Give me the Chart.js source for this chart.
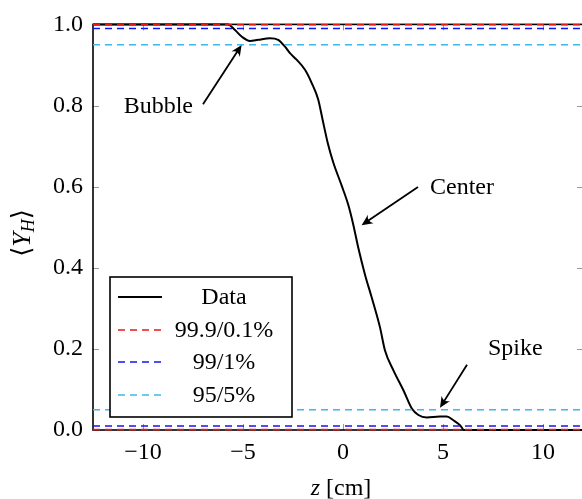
<!DOCTYPE html>
<html>
<head>
<meta charset="utf-8">
<script src="https://cdn.jsdelivr.net/npm/chart.js@4/dist/chart.umd.min.js"></script>
<style>
  html, body { margin: 0; padding: 0; overflow: hidden; background: #fff; }
  #wrap { width: 590px; height: 499px; }
</style>
</head>
<body>
<div id="wrap"><canvas id="c" width="590" height="499"></canvas></div>
<script>
// Mean hydrogen mass fraction along the axis
const zValues = [-12.5, -5.75, -5.4, -5.07, -4.65, -4.24, -3.65, -3.24, -2.9, -2.65, -2.32, -1.9,
  -1.57, -1.24, -1.02, -0.75, -0.49, -0.07, 0.27, 0.52, 0.77, 1.1, 1.44, 1.85, 2.1, 2.52,
  3.02, 3.44, 3.77, 4.19, 4.85, 5.19, 5.52, 5.85, 6.05, 12];
const yhValues = [1.0, 1.0, 0.986, 0.970, 0.959, 0.962, 0.966, 0.962, 0.945, 0.929, 0.913, 0.888,
  0.856, 0.815, 0.765, 0.705, 0.660, 0.603, 0.554, 0.505, 0.448, 0.383, 0.326, 0.253, 0.196, 0.147,
  0.098, 0.053, 0.037, 0.031, 0.033, 0.033, 0.024, 0.012, 0.0, 0.0];

// Threshold pairs
const thresholdLabels = ['99.9/0.1%', '99/1%', '95/5%'];
const thresholdUpper = [0.999, 0.99, 0.95];
const thresholdLower = [0.001, 0.01, 0.05];

// Axes
const zRange = [-12.5, 12];
const yhRange = [0, 1];
const xTickValues = [-10, -5, 0, 5, 10];
const yTickValues = [0, 0.2, 0.4, 0.6, 0.8, 1.0];

// Callouts: text, text anchor, arrow tail, arrow tip (data coordinates)
const calloutTexts = ['Bubble', 'Center', 'Spike'];
const calloutAnchors = [[-7.5, 0.797, 'right'], [4.35, 0.597, 'left'], [7.25, 0.2, 'left']];
const calloutTails = [[-7.0, 0.803], [3.75, 0.599], [6.2, 0.161]];
const calloutTips = [[-5.07, 0.949], [0.93, 0.505], [4.85, 0.055]];

const thresholdColors = ['#e81818', '#1414f0', '#3cb8ea'];
const SERIF = '"Liberation Serif", "DejaVu Serif", serif';
const FS = 24;

function fmtX(v) { return v < 0 ? '\u2212' + Math.abs(v) : String(v); }

const datasets = [{
  label: 'Data',
  data: zValues.map((z, i) => ({ x: z, y: yhValues[i] })),
  borderColor: '#000',
  borderWidth: 2,
  pointRadius: 0,
  showLine: true,
  cubicInterpolationMode: 'monotone',
  order: 1,
  clip: 4
}];
thresholdLabels.forEach((lab, i) => {
  [thresholdUpper[i], thresholdLower[i]].forEach(v => {
    datasets.push({
      label: lab,
      data: [{ x: zRange[0], y: v }, { x: zRange[1], y: v }],
      borderColor: thresholdColors[i],
      borderWidth: 1.6,
      borderDash: [7, 5],
      pointRadius: 0,
      showLine: true,
      order: 0,
      clip: 4
    });
  });
});

// Frame and inward tick marks on all four sides
const framePlugin = {
  id: 'frame',
  beforeDatasetsDraw(chart) {
    const { ctx, chartArea: a, scales: { x, y } } = chart;
    ctx.save();
    ctx.strokeStyle = '#9a9a9a';
    ctx.lineWidth = 1;
    const L = 6;
    xTickValues.forEach(v => {
      const px = Math.round(x.getPixelForValue(v)) + 0.5;
      ctx.beginPath();
      ctx.moveTo(px, a.bottom); ctx.lineTo(px, a.bottom - L);
      ctx.moveTo(px, a.top); ctx.lineTo(px, a.top + L);
      ctx.stroke();
    });
    yTickValues.forEach(v => {
      const py = Math.round(y.getPixelForValue(v)) + 0.5;
      ctx.beginPath();
      ctx.moveTo(a.left, py); ctx.lineTo(a.left + L, py);
      ctx.moveTo(a.right, py); ctx.lineTo(a.right - L, py);
      ctx.stroke();
    });
    ctx.strokeStyle = '#000';
    ctx.lineWidth = 1.6;
    ctx.strokeRect(a.left, a.top, a.right - a.left, a.bottom - a.top);
    ctx.restore();
  }
};

function drawArrow(ctx, x0, y0, x1, y1) {
  const ang = Math.atan2(y1 - y0, x1 - x0);
  const len = 11, half = 5;
  ctx.beginPath();
  ctx.moveTo(x0, y0);
  ctx.lineTo(x1 - Math.cos(ang) * 6, y1 - Math.sin(ang) * 6);
  ctx.stroke();
  ctx.save();
  ctx.translate(x1, y1);
  ctx.rotate(ang);
  ctx.beginPath();
  ctx.moveTo(0, 0);
  ctx.lineTo(-len, -half);
  ctx.quadraticCurveTo(-len * 0.55, 0, -len, half);
  ctx.closePath();
  ctx.fill();
  ctx.restore();
}

// Callout arrows with labels
const calloutPlugin = {
  id: 'callouts',
  afterDatasetsDraw(chart) {
    const { ctx, scales: { x, y } } = chart;
    ctx.save();
    ctx.strokeStyle = '#000';
    ctx.fillStyle = '#000';
    ctx.lineWidth = 1.8;
    ctx.font = FS + 'px ' + SERIF;
    ctx.textBaseline = 'middle';
    calloutTexts.forEach((t, i) => {
      const [tx, ty, align] = calloutAnchors[i];
      ctx.textAlign = align;
      ctx.fillText(t, x.getPixelForValue(tx), y.getPixelForValue(ty));
      drawArrow(ctx,
        x.getPixelForValue(calloutTails[i][0]), y.getPixelForValue(calloutTails[i][1]),
        x.getPixelForValue(calloutTips[i][0]), y.getPixelForValue(calloutTips[i][1]));
    });
    ctx.restore();
  }
};

// Boxed legend inside the plot
const legendPlugin = {
  id: 'boxLegend',
  afterDatasetsDraw(chart) {
    const { ctx } = chart;
    const box = { l: 110, t: 277, r: 292, b: 417 };
    const rows = [297, 330, 362, 395];
    ctx.save();
    ctx.fillStyle = '#fff';
    ctx.fillRect(box.l, box.t, box.r - box.l, box.b - box.t);
    ctx.strokeStyle = '#000';
    ctx.lineWidth = 1.6;
    ctx.strokeRect(box.l, box.t, box.r - box.l, box.b - box.t);
    const entries = [{ label: 'Data', color: '#000', dash: [] }].concat(
      thresholdLabels.map((lab, i) => ({ label: lab, color: thresholdColors[i], dash: [7, 5] })));
    ctx.font = FS + 'px ' + SERIF;
    ctx.textAlign = 'center';
    ctx.textBaseline = 'middle';
    entries.forEach((e, i) => {
      ctx.strokeStyle = e.color;
      ctx.lineWidth = e.dash.length ? 1.6 : 2;
      ctx.setLineDash(e.dash);
      ctx.beginPath();
      ctx.moveTo(118, rows[i]);
      ctx.lineTo(162, rows[i]);
      ctx.stroke();
      ctx.setLineDash([]);
      ctx.fillStyle = '#000';
      ctx.fillText(e.label, 224, rows[i] + 1);
    });
    ctx.restore();
  }
};

// Axis titles with italic symbols
function drawParts(ctx, parts, cx, cy) {
  let total = 0;
  parts.forEach(p => { ctx.font = p.font; p.w = ctx.measureText(p.t).width; total += p.w; });
  let px = cx - total / 2;
  parts.forEach(p => {
    ctx.font = p.font;
    ctx.fillText(p.t, px, cy + (p.dy || 0));
    px += p.w;
  });
}
const titlePlugin = {
  id: 'axisTitles',
  afterDraw(chart) {
    const { ctx } = chart;
    ctx.save();
    ctx.fillStyle = '#000';
    ctx.textAlign = 'left';
    ctx.textBaseline = 'alphabetic';
    drawParts(ctx, [
      { t: 'z', font: 'italic ' + FS + 'px ' + SERIF },
      { t: ' [cm]', font: FS + 'px ' + SERIF }
    ], 341, 495);
    ctx.translate(30, 233);
    ctx.rotate(-Math.PI / 2);
    drawParts(ctx, [
      { t: '\u27E8', font: '26px "DejaVu Serif", serif' },
      { t: 'Y', font: 'italic 26px ' + SERIF },
      { t: 'H', font: 'italic 18px ' + SERIF, dy: 4 },
      { t: '\u27E9', font: '26px "DejaVu Serif", serif' }
    ], 0, 0);
    ctx.restore();
  }
};

new Chart(document.getElementById('c').getContext('2d'), {
  type: 'scatter',
  data: { datasets },
  options: {
    responsive: false,
    devicePixelRatio: 1,
    animation: false,
    layout: { padding: { top: 21, right: 7, left: 0, bottom: 0 } },
    plugins: { legend: { display: false }, tooltip: { enabled: false } },
    scales: {
      x: {
        type: 'linear',
        min: zRange[0], max: zRange[1],
        afterBuildTicks: s => { s.ticks = xTickValues.map(v => ({ value: v })); },
        afterFit: s => { s.height = 69; },
        grid: { display: false, drawTicks: false },
        border: { display: false },
        ticks: {
          color: '#000', font: { family: SERIF, size: FS }, padding: 8,
          maxRotation: 0, autoSkip: false, callback: v => fmtX(v)
        }
      },
      y: {
        type: 'linear',
        min: yhRange[0], max: yhRange[1],
        afterBuildTicks: s => { s.ticks = yTickValues.map(v => ({ value: v })); },
        afterFit: s => { s.width = 93; },
        grid: { display: false, drawTicks: false },
        border: { display: false },
        ticks: {
          color: '#000', font: { family: SERIF, size: FS }, padding: 10,
          autoSkip: false, callback: v => Number(v).toFixed(1)
        }
      }
    }
  },
  plugins: [framePlugin, calloutPlugin, legendPlugin, titlePlugin]
});
</script>
</body>
</html>
